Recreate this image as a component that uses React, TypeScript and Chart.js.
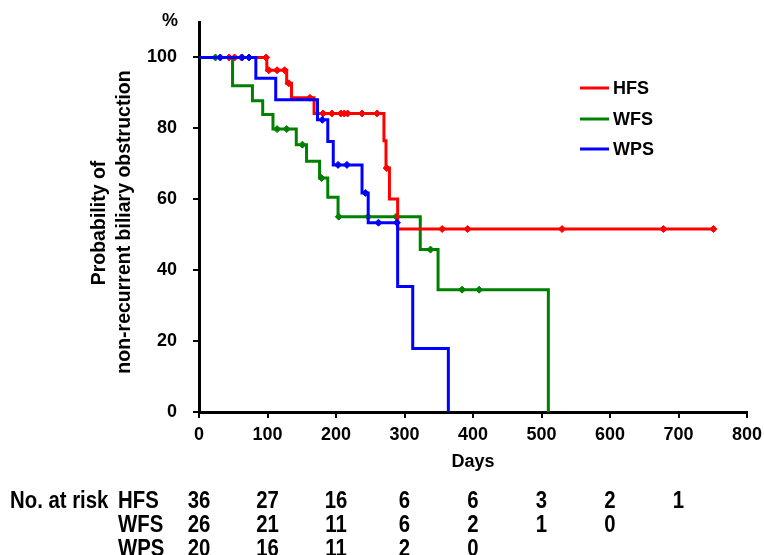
import React, { useEffect, useRef } from 'react';
import { Chart, registerables } from 'chart.js';
Chart.register(...registerables);

const seriesNames = ['HFS', 'WFS', 'WPS'];
const seriesColors = ['#ff0000', '#008000', '#0000ff'];

const hfsDays = [0, 99, 128, 135, 168, 270, 273, 278, 290, 751];
const hfsSurv = [100, 96.4, 92.7, 88.6, 84.2, 76.5, 68.8, 60.1, 51.6, 51.6];
const hfsCensorDays = [44, 52, 62, 98, 102, 114, 125, 131, 162, 181, 194, 207, 212, 217, 238, 260, 274, 355, 392, 530, 678, 751];
const hfsCensorSurv = [100, 100, 100, 100, 96.4, 96.4, 96.4, 92.7, 88.6, 84.2, 84.2, 84.2, 84.2, 84.2, 84.2, 84.2, 68.8, 51.6, 51.6, 51.6, 51.6, 51.6];

const wfsDays = [0, 49, 78, 93, 108, 142, 157, 176, 188, 203, 323, 349, 510];
const wfsSurv = [100, 92, 87.8, 83.9, 79.8, 75.4, 70.7, 66.0, 60.6, 55.1, 45.8, 34.5, 0];
const wfsCensorDays = [24, 114, 128, 151, 179, 204, 247, 288, 338, 384, 409];
const wfsCensorSurv = [100, 79.8, 79.8, 75.4, 66.0, 55.1, 55.1, 55.1, 45.8, 34.5, 34.5];

const wpsDays = [0, 83, 112, 173, 188, 196, 238, 247, 290, 312, 364];
const wpsSurv = [100, 94.1, 88.1, 82.4, 76.3, 69.7, 61.8, 53.4, 35.4, 17.9, 0];
const wpsCensorDays = [31, 63, 73, 180, 203, 216, 243, 262, 289];
const wpsCensorSurv = [100, 100, 100, 82.4, 69.7, 69.7, 61.8, 53.4, 53.4];

const riskDays = [0, 100, 200, 300, 400, 500, 600, 700];
const hfsRisk = [36, 27, 16, 6, 6, 3, 2, 1];
const wfsRisk = [26, 21, 11, 6, 2, 1, 0];
const wpsRisk = [20, 16, 11, 2, 0];

const yTitleLines = ['Probability of', 'non-recurrent biliary obstruction'];
const xTitle = 'Days';
const riskLabel = 'No. at risk';

const FONT = '"Liberation Sans", Arial, sans-serif';

const toPts = (xs: number[], ys: number[]) => xs.map((x, i) => ({ x, y: ys[i] }));

const extras = {
  id: 'extras',
  afterDraw(chart: any) {
    const ctx = chart.ctx as CanvasRenderingContext2D;
    const xs = chart.scales.x;
    const area = chart.chartArea;
    ctx.save();
    ctx.fillStyle = '#000';
    ctx.textBaseline = 'middle';
    // % label
    ctx.font = `bold 18px ${FONT}`;
    ctx.textAlign = 'center';
    ctx.fillText('%', 170, 21);
    // y title
    const yCenters = [223, 222];
    const xCenters = [100, 125];
    yTitleLines.forEach((t, i) => {
      ctx.save();
      ctx.translate(xCenters[i], yCenters[i]);
      ctx.rotate(-Math.PI / 2);
      ctx.font = `bold 19.5px ${FONT}`;
      ctx.textAlign = 'center';
      ctx.fillText(t, 0, 0);
      ctx.restore();
    });
    // x title
    ctx.font = `bold 18px ${FONT}`;
    ctx.textAlign = 'center';
    ctx.fillText(xTitle, (area.left + area.right) / 2, 462);
    // legend
    const legY = [88, 119, 149];
    seriesNames.forEach((n, i) => {
      ctx.strokeStyle = seriesColors[i];
      ctx.lineWidth = 3;
      ctx.beginPath();
      ctx.moveTo(580, legY[i]);
      ctx.lineTo(609, legY[i]);
      ctx.stroke();
      ctx.fillStyle = '#000';
      ctx.textAlign = 'left';
      ctx.font = `bold 18px ${FONT}`;
      ctx.fillText(n, 613, legY[i] + 1);
    });
    // risk table (condensed text)
    const rowY = [502, 526, 550];
    const rows = [hfsRisk, wfsRisk, wpsRisk];
    const sx = 0.885;
    const drawText = (t: string, x: number, y: number, align: CanvasTextAlign) => {
      ctx.save();
      ctx.translate(x, y);
      ctx.scale(sx, 1);
      ctx.textAlign = align;
      ctx.font = `bold 23px ${FONT}`;
      ctx.fillText(t, 0, 0);
      ctx.restore();
    };
    drawText(riskLabel, 10, rowY[0], 'left');
    rows.forEach((r, i) => {
      drawText(seriesNames[i], 118, rowY[i], 'left');
      r.forEach((v, j) => {
        drawText(String(v), xs.getPixelForValue(riskDays[j]), rowY[i], 'center');
      });
    });
    ctx.restore();
  },
};

const zeroPad = (s: any) => {
  s.paddingTop = 0;
  s.paddingBottom = 0;
  s.paddingLeft = 0;
  s.paddingRight = 0;
};

export default function App() {
  const ref = useRef<HTMLCanvasElement>(null);
  useEffect(() => {
    if (!ref.current) return;
    const lineDs = (label: string, pts: any[], color: string, order: number) => ({
      type: 'line' as const,
      label,
      data: pts,
      borderColor: color,
      backgroundColor: color,
      borderWidth: 3,
      stepped: true,
      pointRadius: 0,
      fill: false,
      order,
    });
    const censorDs = (label: string, pts: any[], color: string, order: number) => ({
      type: 'scatter' as const,
      label,
      data: pts,
      borderColor: color,
      backgroundColor: color,
      pointStyle: 'rectRot',
      pointRadius: 3.5,
      borderWidth: 1,
      showLine: false,
      order,
    });
    const chart = new Chart(ref.current, {
      type: 'line',
      data: {
        datasets: [
          lineDs(seriesNames[2], toPts(wpsDays, wpsSurv), seriesColors[2], 1),
          censorDs(seriesNames[2] + ' censored', toPts(wpsCensorDays, wpsCensorSurv), seriesColors[2], 0),
          lineDs(seriesNames[0], toPts(hfsDays, hfsSurv), seriesColors[0], 3),
          censorDs(seriesNames[0] + ' censored', toPts(hfsCensorDays, hfsCensorSurv), seriesColors[0], 2),
          lineDs(seriesNames[1], toPts(wfsDays, wfsSurv), seriesColors[1], 5),
          censorDs(seriesNames[1] + ' censored', toPts(wfsCensorDays, wfsCensorSurv), seriesColors[1], 4),
        ] as any,
      },
      options: {
        animation: false,
        responsive: false,
        devicePixelRatio: 1,
        layout: { padding: { left: 0, right: 17, top: 22, bottom: 0 } },
        plugins: { legend: { display: false }, tooltip: { enabled: false } },
        scales: {
          x: {
            type: 'linear',
            min: 0,
            max: 800,
            ticks: { stepSize: 100, color: '#000', padding: 6, font: { family: FONT, size: 18, weight: 'bold' } },
            grid: { display: true, drawOnChartArea: false, drawTicks: true, tickLength: 6, color: '#000', lineWidth: 2 },
            border: { display: true, color: '#000', width: 3 },
            afterFit: (s: any) => { s.height = 143; zeroPad(s); },
          },
          y: {
            type: 'linear',
            min: 0,
            max: 110,
            ticks: { stepSize: 20, color: '#000', padding: 16, font: { family: FONT, size: 18, weight: 'bold' } },
            grid: { display: true, drawOnChartArea: false, drawTicks: true, tickLength: 6, color: '#000', lineWidth: 2 },
            border: { display: true, color: '#000', width: 3 },
            afterBuildTicks: (s: any) => { s.ticks = s.ticks.filter((t: any) => t.value <= 100); },
            afterFit: (s: any) => { s.width = 199; zeroPad(s); },
          },
        },
      } as any,
      plugins: [extras],
    });
    return () => chart.destroy();
  }, []);
  return (
    <div style={{ position: 'fixed', left: 0, top: 0, width: 764, height: 555, background: '#fff' }}>
      <canvas ref={ref} width={764} height={555} />
    </div>
  );
}
